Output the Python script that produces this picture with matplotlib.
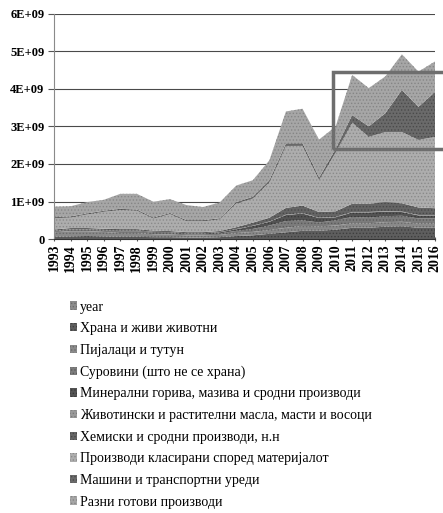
import numpy as np
import matplotlib.pyplot as plt
from matplotlib.patches import Rectangle
from matplotlib.ticker import FuncFormatter

plt.rcParams['font.family'] = ['Liberation Serif', 'DejaVu Serif']
plt.rcParams['hatch.linewidth'] = 0.6

years = list(range(1993, 2017))

# values in billions (E+09)
year_vals = [y / 1e9 for y in years]
food = [0.06, 0.07, 0.08, 0.07, 0.06, 0.06, 0.05, 0.05, 0.04, 0.04, 0.05, 0.08,
        0.10, 0.14, 0.18, 0.22, 0.22, 0.25, 0.30, 0.30, 0.33, 0.34, 0.30, 0.30]
beverages = [0.12, 0.14, 0.13, 0.12, 0.10, 0.10, 0.08, 0.07, 0.06, 0.06, 0.06, 0.08,
             0.09, 0.10, 0.12, 0.13, 0.12, 0.11, 0.12, 0.12, 0.12, 0.12, 0.11, 0.11]
crude = [0.03, 0.04, 0.04, 0.04, 0.05, 0.05, 0.04, 0.04, 0.03, 0.03, 0.04, 0.06,
         0.08, 0.12, 0.18, 0.15, 0.10, 0.14, 0.17, 0.15, 0.16, 0.16, 0.14, 0.14]
fuels = [0.01, 0.01, 0.01, 0.01, 0.02, 0.02, 0.02, 0.02, 0.02, 0.02, 0.03, 0.04,
         0.08, 0.10, 0.16, 0.18, 0.12, 0.08, 0.12, 0.14, 0.12, 0.10, 0.08, 0.08]
oils = [0.004, 0.004, 0.005, 0.005, 0.005, 0.005, 0.004, 0.004, 0.004, 0.004, 0.005, 0.006,
        0.007, 0.008, 0.010, 0.012, 0.010, 0.010, 0.012, 0.012, 0.013, 0.013, 0.012, 0.012]
chemicals = [0.03, 0.03, 0.03, 0.03, 0.03, 0.03, 0.03, 0.03, 0.03, 0.03, 0.03, 0.05,
             0.08, 0.10, 0.18, 0.20, 0.15, 0.15, 0.22, 0.22, 0.24, 0.22, 0.20, 0.18]
manufactured = [0.30, 0.28, 0.36, 0.45, 0.51, 0.49, 0.32, 0.45, 0.29, 0.29, 0.31, 0.63,
                0.64, 0.94, 1.65, 1.59, 0.85, 1.56, 2.16, 1.78, 1.87, 1.90, 1.80, 1.90]
machinery = [0.03, 0.03, 0.03, 0.03, 0.03, 0.03, 0.03, 0.03, 0.03, 0.03, 0.03, 0.04,
             0.05, 0.06, 0.07, 0.07, 0.07, 0.10, 0.20, 0.28, 0.50, 1.12, 0.88, 1.20]
misc = [0.28, 0.27, 0.30, 0.29, 0.40, 0.42, 0.42, 0.37, 0.40, 0.35, 0.42, 0.44,
        0.44, 0.53, 0.85, 0.92, 1.01, 0.60, 1.07, 1.02, 0.98, 0.95, 0.94, 0.81]

labels = ['year',
          'Храна и живи животни',
          'Пијалаци и тутун',
          'Суровини (што не се храна)',
          'Минерални горива, мазива и сродни производи',
          'Животински и растителни масла, масти и восоци',
          'Хемиски и сродни производи, н.н',
          'Производи класирани според материјалот',
          'Машини и транспортни уреди',
          'Разни готови производи']

colors = ['#8c8c8c', '#5e5e5e', '#8a8a8a', '#7c7c7c', '#545454',
          '#9a9a9a', '#656565', '#adadad', '#6a6a6a', '#a6a6a6']
dots = ['#6a6a6a', '#3e3e3e', '#6a6a6a', '#5a5a5a', '#383838',
        '#7a7a7a', '#474747', '#8a8a8a', '#4a4a4a', '#858585']

series = [year_vals, food, beverages, crude, fuels, oils, chemicals,
          manufactured, machinery, misc]

fig = plt.figure(figsize=(4.43, 5.13), dpi=100)
ax = fig.add_axes([0.122, 0.534, 0.860, 0.439])

ys = [np.array(s) * 1e9 for s in series]
polys = ax.stackplot(years, *ys, colors=colors, labels=labels, linewidth=0, zorder=2)
for p, dc in zip(polys, dots):
    p.set_hatch('.....')
    p.set_edgecolor(dc)
    p.set_linewidth(0)

# box drawn over the chart
ax.add_patch(Rectangle((2009.84, 2.4e9), 10, 2.06e9, fill=False,
                       edgecolor='#6e6e6e', linewidth=2.5, clip_on=False, zorder=5))

ax.set_xlim(1993, 2016)
ax.set_ylim(0, 6e9)
ax.set_yticks([0, 1e9, 2e9, 3e9, 4e9, 5e9, 6e9])
ax.yaxis.set_major_formatter(FuncFormatter(lambda v, p: '0' if v == 0 else f'{int(round(v / 1e9))}E+09'))
ax.set_xticks(years)
ax.set_xticklabels([str(y) for y in years], rotation=90, fontsize=10, fontweight='bold')
for t in ax.get_yticklabels():
    t.set_fontsize(9)
    t.set_fontweight('bold')

ax.grid(True, axis='y', color='#4a4a4a', linewidth=0.8, zorder=0)
ax.set_axisbelow(True)
for s in ['top', 'right']:
    ax.spines[s].set_visible(False)
ax.spines['left'].set_color('#8a8a8a')
ax.spines['left'].set_linestyle((0, (1, 1)))
ax.spines['bottom'].set_color('#333333')
ax.tick_params(axis='y', length=4, color='#555555', pad=3)
ax.tick_params(axis='x', length=3, color='#555555', pad=2, direction='inout')

fig.legend(handles=polys, labels=labels, loc='upper left',
           bbox_to_anchor=(0.145, 0.425), frameon=False,
           prop={'size': 10},
           handlelength=0.55, handleheight=0.55, handletextpad=0.2,
           labelspacing=0.62, borderaxespad=0)

fig.savefig('out.png', dpi=100)
